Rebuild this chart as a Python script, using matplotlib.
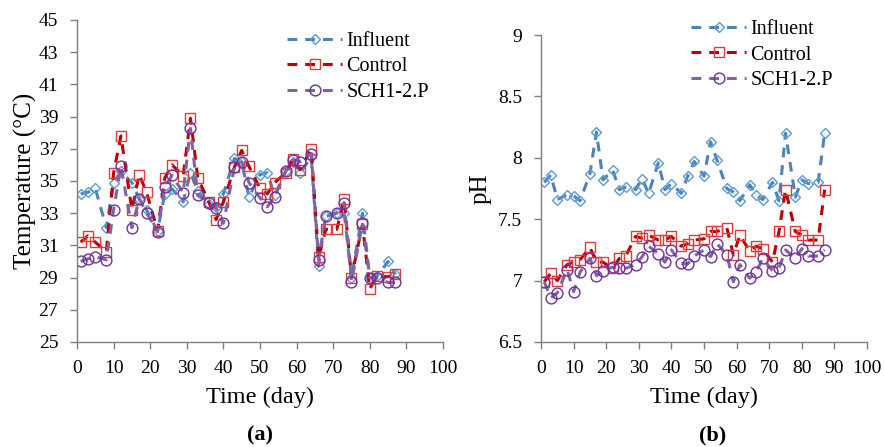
import matplotlib
matplotlib.use("Agg")
import matplotlib.pyplot as plt

plt.rcParams['font.family'] = ['Liberation Serif', 'DejaVu Serif']
plt.rcParams['mathtext.fontset'] = 'stix'

days = [1, 3, 5, 8, 10, 12, 15, 17, 19, 22, 24, 26, 29, 31, 33, 36, 38, 40, 43, 45,
        47, 50, 52, 54, 57, 59, 61, 64, 66, 68, 71, 73, 75, 78, 80, 82, 85, 87]

temp_influent = [34.2, 34.3, 34.55, 32.1, 34.9, 35.6, 34.9, 33.9, 33.2, 31.9, 34.2, 34.5,
                 33.7, 35.5, 34.4, 33.6, 33.4, 34.2, 36.4, 36.2, 34.0, 35.4, 35.5, 34.1,
                 35.6, 36.2, 35.5, 36.5, 29.7, 32.8, 33.0, 33.0, 29.0, 33.0, 29.0, 29.1,
                 30.0, 29.2]
temp_control = [31.2, 31.6, 31.2, 30.6, 35.5, 37.8, 33.2, 35.4, 34.3, 31.9, 35.2, 36.0,
                35.3, 38.9, 35.2, 33.7, 32.6, 33.7, 35.85, 36.9, 35.9, 34.55, 34.2, 34.9,
                35.5, 36.35, 35.7, 37.0, 30.3, 32.0, 32.0, 33.86, 29.0, 32.3, 28.3, 29.1,
                29.05, 29.2]
temp_sch = [30.0, 30.16, 30.3, 30.1, 33.2, 35.9, 32.1, 33.9, 33.03, 31.85, 34.65, 35.35,
            34.27, 38.27, 34.1, 33.66, 33.3, 32.37, 35.85, 36.2, 34.9, 33.95, 33.4, 34.0,
            35.6, 36.3, 36.2, 36.7, 30.1, 32.85, 33.0, 33.66, 28.75, 32.37, 29.0, 28.96,
            28.7, 28.7]

ph_influent = [7.80, 7.86, 7.66, 7.70, 7.69, 7.65, 7.87, 8.21, 7.82, 7.90, 7.74, 7.76,
               7.74, 7.83, 7.71, 7.96, 7.74, 7.79, 7.71, 7.85, 7.97, 7.85, 8.13, 7.98,
               7.75, 7.72, 7.65, 7.78, 7.70, 7.66, 7.80, 7.65, 8.20, 7.68, 7.82, 7.79,
               7.80, 8.20]
ph_control = [6.99, 7.06, 7.00, 7.13, 7.15, 7.17, 7.27, 7.15, 7.15, 7.10, 7.18, 7.20,
              7.36, 7.345, 7.37, 7.33, 7.33, 7.36, 7.28, 7.30, 7.33, 7.34, 7.40, 7.40,
              7.43, 7.21, 7.37, 7.24, 7.28, 7.26, 7.15, 7.40, 7.74, 7.40, 7.37, 7.33,
              7.33, 7.74]
ph_sch = [6.99, 6.86, 6.90, 7.09, 6.91, 7.07, 7.18, 7.04, 7.08, 7.11, 7.10, 7.10,
          7.13, 7.195, 7.28, 7.22, 7.15, 7.25, 7.14, 7.135, 7.20, 7.25, 7.195, 7.30,
          7.21, 6.99, 7.13, 7.02, 7.07, 7.18, 7.08, 7.10, 7.25, 7.18, 7.26, 7.20,
          7.20, 7.25]

series_names = ["Influent", "Control", "SCH1-2.P"]
line_colors = ["#4F81BD", "#C00000", "#8064A2"]
marker_colors = ["#5B9BD5", "#E03C3C", "#7030A0"]
markers = ["D", "s", "o"]
msizes = [5.5, 7.5, 7.8]

fig = plt.figure(figsize=(8.84, 4.47), dpi=100)
ax1 = fig.add_axes([0.0871, 0.2349, 0.4140, 0.7204])
ax2 = fig.add_axes([0.6120, 0.2349, 0.3688, 0.6868])

def draw(ax, ys):
    for i, y in enumerate(ys):
        ax.plot(days, y, color=line_colors[i], lw=2.2, dashes=(3.2, 2.6),
                marker=markers[i], ms=msizes[i], mfc='none', mec=marker_colors[i],
                mew=1.0, label=series_names[i])

draw(ax1, [temp_influent, temp_control, temp_sch])
draw(ax2, [ph_influent, ph_control, ph_sch])

for ax in (ax1, ax2):
    ax.set_xlim(0, 100)
    ax.set_xticks(range(0, 101, 10))
    for s in ('top', 'right'):
        ax.spines[s].set_visible(False)
    for s in ('left', 'bottom'):
        ax.spines[s].set_color('#7F7F7F')
        ax.spines[s].set_linewidth(1.0)
    ax.tick_params(direction='out', length=5, width=1.0, color='#7F7F7F',
                   labelsize=14)
    ax.tick_params(axis='x', pad=8)
    ax.tick_params(axis='y', pad=8.5)
    ax.set_xlabel("Time (day)", fontsize=17.5, labelpad=7)

ax1.set_ylim(25, 45)
ax1.set_yticks(range(25, 46, 2))
ax1.set_ylabel("Temperature (°C)", fontsize=18, labelpad=1)

ax2.set_ylim(6.5, 9)
ax2.set_yticks([6.5, 7, 7.5, 8, 8.5, 9])
ax2.set_yticklabels(["6.5", "7", "7.5", "8", "8.5", "9"])
ax2.set_ylabel("pH", fontsize=18, labelpad=5)

leg_kw = dict(frameon=False, fontsize=14.5, handlelength=2.75, handletextpad=0.2,
              labelspacing=0.3, borderpad=0, borderaxespad=0, loc='upper left')
ax1.legend(bbox_to_anchor=(0.574, 0.962), **leg_kw)
ax2.legend(bbox_to_anchor=(0.46, 1.048), **leg_kw)

fig.text(260 / 884, 1 - 435 / 447, "(a)", ha='center', va='center',
         fontsize=16, fontweight='bold')
fig.text(713 / 884, 1 - 435 / 447, "(b)", ha='center', va='center',
         fontsize=16, fontweight='bold')

fig.savefig("out.png", dpi=100)
